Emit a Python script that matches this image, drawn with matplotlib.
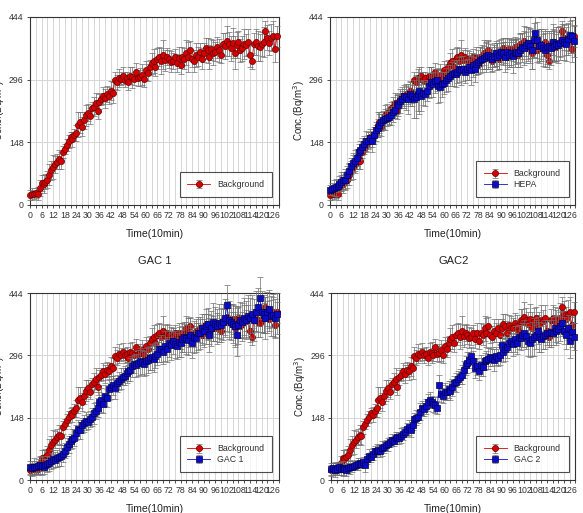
import numpy as np
import matplotlib
matplotlib.use("Agg")
import matplotlib.pyplot as plt
from matplotlib.ticker import MultipleLocator

plt.rcParams["font.family"] = ["Liberation Sans", "DejaVu Sans"]

# time index, one point every 10 min
time = list(range(129))

background = [
    24, 26, 25, 28, 27, 40, 52, 50, 55, 60,
    72, 82, 90, 96, 102, 108, 104, 125, 132, 142,
    150, 160, 155, 165, 170, 190, 195, 185, 200, 212,
    218, 210, 228, 232, 240, 222, 244, 250, 258, 252,
    262, 258, 270, 265, 295, 290, 300, 298, 305, 296,
    300, 290, 305, 302, 298, 315, 300, 302, 308, 298,
    318, 312, 325, 335, 340, 325, 345, 350, 340, 355,
    342, 350, 345, 338, 340, 350, 335, 348, 330, 350,
    345, 360, 350, 365, 345, 340, 355, 350, 362, 345,
    360, 370, 365, 350, 368, 360, 362, 372, 365, 355,
    380, 375, 388, 380, 370, 382, 360, 378, 385, 365,
    370, 380, 378, 385, 355, 340, 380, 385, 375, 372,
    380, 385, 410, 395, 382, 395, 400, 368, 398,
]
background_err = [
    12, 14, 10, 12, 15, 18, 20, 22, 18, 20,
    25, 22, 28, 20, 18, 22, 20, 15, 12, 14,
    15, 12, 18, 15, 20, 30, 25, 22, 20, 25,
    20, 18, 15, 22, 25, 20, 18, 15, 20, 22,
    18, 20, 22, 25, 20, 18, 22, 15, 20, 18,
    15, 18, 20, 25, 15, 20, 18, 22, 25, 20,
    22, 20, 18, 25, 28, 20, 25, 22, 30, 35,
    25, 20, 22, 25, 20, 18, 22, 25, 20, 22,
    25, 30, 35, 22, 20, 25, 28, 22, 20, 25,
    22, 25, 30, 28, 25, 30, 22, 25, 28, 20,
    25, 30, 35, 28, 30, 35, 40, 30, 25, 28,
    30, 35, 25, 30, 28, 20, 25, 30, 35, 32,
    28, 35, 25, 30, 28, 32, 35, 30, 25,
]

hepa = [
    35, 38, 40, 42, 45, 50, 55, 58, 60, 70,
    80, 92, 100, 105, 112, 125, 130, 138, 145, 150,
    152, 158, 150, 165, 178, 182, 190, 195, 200, 202,
    205, 208, 212, 220, 225, 238, 235, 245, 250, 258,
    255, 250, 262, 258, 250, 255, 262, 270, 258, 265,
    262, 270, 282, 290, 285, 292, 295, 282, 278, 285,
    288, 295, 300, 305, 310, 312, 310, 315, 320, 318,
    322, 315, 320, 325, 318, 330, 320, 332, 338, 342,
    345, 348, 352, 355, 350, 345, 352, 358, 350, 355,
    362, 358, 350, 362, 355, 360, 352, 358, 362, 360,
    365, 372, 370, 378, 382, 375, 365, 390, 405, 390,
    375, 378, 370, 365, 372, 375, 370, 385, 375, 380,
    378, 382, 390, 385, 380, 392, 402, 398, 388,
]
hepa_err = [
    12, 15, 18, 20, 15, 18, 22, 20, 25, 22,
    20, 18, 22, 25, 20, 18, 22, 20, 18, 25,
    20, 22, 25, 20, 18, 22, 25, 20, 22, 25,
    18, 20, 22, 25, 20, 22, 25, 28, 20, 25,
    30, 35, 28, 25, 45, 50, 40, 55, 35, 30,
    28, 25, 30, 35, 30, 28, 25, 40, 35, 30,
    25, 28, 30, 25, 28, 30, 32, 28, 30, 35,
    30, 28, 25, 30, 35, 28, 30, 25, 28, 30,
    32, 28, 30, 35, 30, 28, 25, 30, 32, 35,
    30, 28, 35, 32, 30, 35, 40, 32, 30, 35,
    38, 35, 40, 42, 38, 40, 45, 40, 38, 42,
    40, 38, 42, 40, 38, 35, 40, 42, 38, 40,
    42, 40, 38, 42, 40, 38, 42, 40, 38,
]

gac1 = [
    30, 28, 32, 30, 33, 35, 34, 32, 36, 38,
    40, 45, 50, 48, 52, 55, 58, 62, 70, 78,
    85, 92, 98, 100, 112, 120, 118, 130, 135, 140,
    138, 145, 150, 158, 165, 172, 185, 190, 180, 200,
    195, 215, 220, 225, 218, 230, 235, 240, 245, 248,
    255, 258, 262, 270, 275, 272, 278, 282, 280, 276,
    282, 285, 290, 292, 288, 295, 300, 310, 312, 305,
    318, 310, 325, 320, 330, 322, 318, 328, 325, 335,
    340, 338, 332, 345, 325, 340, 338, 348, 350, 360,
    355, 365, 370, 345, 360, 375, 370, 365, 372, 368,
    375, 385, 415, 380, 375, 370, 365, 345, 368, 380,
    375, 385, 380, 390, 385, 395, 380, 400, 410, 432,
    400, 395, 385, 398, 405, 390, 392, 385, 395,
]
gac1_err = [
    15, 18, 20, 15, 18, 20, 22, 18, 15, 20,
    18, 20, 22, 18, 20, 22, 25, 20, 18, 22,
    20, 18, 22, 20, 18, 22, 20, 18, 20, 22,
    18, 20, 22, 25, 20, 22, 25, 28, 22, 25,
    22, 25, 28, 22, 25, 20, 22, 25, 20, 22,
    25, 22, 28, 25, 22, 28, 30, 32, 28, 30,
    32, 30, 28, 30, 32, 30, 28, 30, 32, 30,
    35, 30, 32, 35, 30, 32, 30, 35, 32, 30,
    35, 38, 35, 40, 35, 38, 35, 40, 38, 35,
    40, 42, 38, 40, 42, 45, 40, 42, 45, 40,
    42, 45, 48, 45, 42, 45, 48, 50, 45, 42,
    45, 48, 45, 50, 48, 45, 50, 48, 45, 50,
    48, 45, 50, 48, 45, 48, 50, 45, 48,
]

gac2 = [
    25, 28, 24, 26, 30, 27, 28, 25, 24, 28,
    30, 32, 34, 35, 38, 40, 38, 42, 35, 50,
    58, 55, 62, 68, 70, 72, 70, 75, 78, 82,
    85, 90, 95, 92, 100, 102, 100, 105, 110, 115,
    120, 125, 118, 130, 145, 148, 150, 162, 170, 168,
    175, 185, 190, 185, 180, 178, 172, 225, 205, 200,
    210, 208, 215, 212, 220, 230, 232, 240, 245, 250,
    262, 272, 278, 285, 295, 282, 265, 270, 260, 272,
    268, 282, 285, 288, 292, 290, 285, 295, 290, 298,
    320, 305, 310, 315, 325, 330, 322, 335, 325, 340,
    338, 345, 348, 342, 330, 325, 335, 340, 345, 355,
    340, 335, 342, 345, 350, 348, 352, 350, 360, 355,
    358, 365, 372, 355, 345, 362, 330, 352, 340,
]
gac2_err = [
    15, 12, 18, 15, 12, 15, 18, 12, 15, 12,
    15, 12, 10, 12, 15, 12, 10, 12, 15, 12,
    15, 12, 15, 12, 15, 12, 15, 18, 15, 12,
    15, 12, 15, 12, 15, 12, 15, 18, 15, 12,
    15, 18, 15, 12, 15, 18, 15, 20, 18, 15,
    18, 20, 18, 15, 18, 20, 15, 25, 20, 18,
    20, 18, 20, 22, 20, 18, 22, 20, 18, 22,
    20, 22, 25, 20, 22, 25, 22, 20, 22, 25,
    22, 20, 22, 25, 22, 20, 25, 22, 20, 25,
    22, 25, 28, 25, 22, 25, 28, 30, 25, 28,
    30, 28, 32, 30, 35, 32, 40, 45, 35, 32,
    35, 30, 32, 35, 30, 32, 35, 30, 32, 35,
    32, 35, 30, 32, 35, 30, 40, 35, 32,
]

YTICKS = [0, 148, 296, 444]
XTICKS = list(range(0, 127, 6))

RED = dict(fmt="-o", color="#d40000", mfc="#d40000", mec="#6a0000", lw=0.6,
           ms=4.4, mew=0.5, ecolor="#6e6e6e", elinewidth=0.5, capsize=2.2,
           capthick=0.5)
BLUE = dict(fmt="-s", color="#1010d0", mfc="#0a0ac8", mec="#000050", lw=0.6,
            ms=4.0, mew=0.5, ecolor="#6e6e6e", elinewidth=0.5, capsize=2.2,
            capthick=0.5)


def style_axes(ax, label_x):
    ax.set_xlim(0, 129)
    ax.set_ylim(0, 444)
    ax.set_yticks(YTICKS)
    ax.set_xticks(XTICKS)
    ax.xaxis.set_minor_locator(MultipleLocator(3))
    ax.grid(True, which="both", axis="x", color="#d0d0d0", lw=0.6)
    ax.grid(True, which="major", axis="y", color="#d0d0d0", lw=0.6)
    ax.set_axisbelow(True)
    ax.tick_params(axis="both", which="both", direction="out", labelsize=6.3,
                   length=2.5, width=0.6, colors="#333333", pad=2)
    for s in ax.spines.values():
        s.set_linewidth(0.8)
        s.set_color("#333333")
    ax.set_xlabel("Time(10min)", fontsize=7.5, color="#222222", labelpad=6)
    ax.set_ylabel("Conc.(Bq/m$^3$)", fontsize=7, color="#222222")
    # label x is its right edge (rotated text anchored at its baseline)
    ax.yaxis.set_label_coords(label_x, 0.5)


def draw_panel(ax, label_x, other=None, other_err=None, other_label=None):
    ax.errorbar(time, background, yerr=background_err, label="Background",
                clip_on=False, zorder=3, **RED)
    if other is not None:
        ax.errorbar(time, other, yerr=other_err, label=other_label,
                    clip_on=False, zorder=4, **BLUE)
    style_axes(ax, label_x)
    leg = ax.legend(loc="lower right", fontsize=6.3, frameon=True, fancybox=False,
                    borderpad=0.9, handlelength=2.6, labelspacing=0.2,
                    bbox_to_anchor=(0.99, 0.02))
    leg.get_frame().set_edgecolor("#222222")
    leg.get_frame().set_linewidth(0.8)
    for t in leg.get_texts():
        t.set_color("#333333")


fig = plt.figure(figsize=(5.83, 5.13), dpi=100)

ax1 = fig.add_axes([0.0515, 0.6004, 0.427, 0.3665])
ax2 = fig.add_axes([0.566, 0.6004, 0.421, 0.3665])
ax3 = fig.add_axes([0.0515, 0.0643, 0.427, 0.3645])
ax4 = fig.add_axes([0.568, 0.0643, 0.419, 0.3645])

draw_panel(ax1, -0.094)
draw_panel(ax2, -0.095, hepa, hepa_err, "HEPA")
draw_panel(ax3, -0.094, gac1, gac1_err, "GAC 1")
draw_panel(ax4, -0.095, gac2, gac2_err, "GAC 2")

fig.text(0.265, 0.492, "GAC 1", ha="center", va="center", fontsize=8, color="#222222")
fig.text(0.778, 0.492, "GAC2", ha="center", va="center", fontsize=8, color="#222222")

fig.savefig("out.png", dpi=100)
